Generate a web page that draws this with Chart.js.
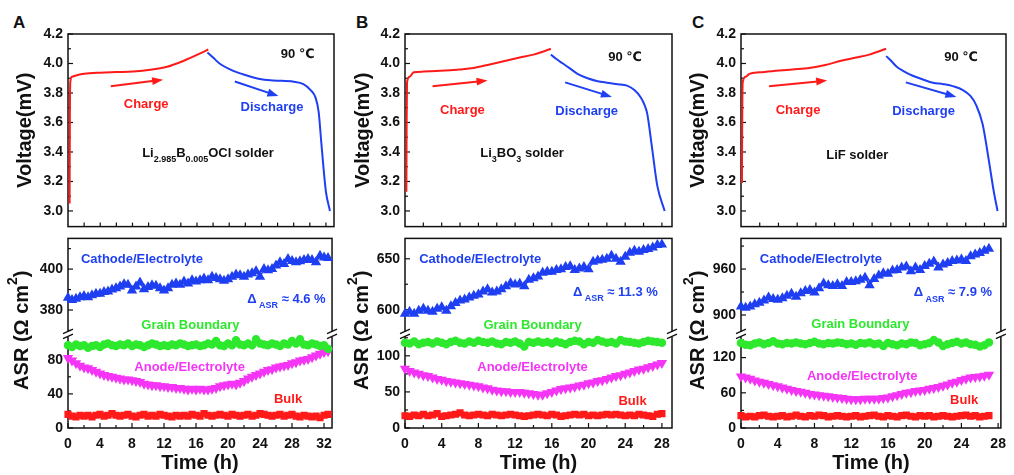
<!DOCTYPE html>
<html>
<head>
<meta charset="utf-8">
<script src="https://cdn.jsdelivr.net/npm/chart.js@4.4.1/dist/chart.umd.min.js"></script>
<style>
  body { margin: 0; background: #fff; width: 1014px; height: 475px; position: relative; overflow: hidden; }
  canvas { position: absolute; }
  .tag { position: absolute; font: bold 17px "Liberation Sans", Arial, sans-serif; color: #111; }
</style>
</head>
<body>
<div class="tag" style="left:13px;top:13px">A</div>
<div class="tag" style="left:356px;top:13px">B</div>
<div class="tag" style="left:692px;top:13px">C</div>
<canvas id="topA"></canvas><canvas id="botA"></canvas>
<canvas id="topB"></canvas><canvas id="botB"></canvas>
<canvas id="topC"></canvas><canvas id="botC"></canvas>
<script>
const FONT = '"Liberation Sans", "DejaVu Sans", Arial, sans-serif';
const RED = '#ff1a1a', BLUE = '#1f3ff2', GREEN = '#2ee82e', MAGENTA = '#f535f5', INK = '#111111';

// ---- panel A : Li2.985B0.005OCl ----
const timeA = [0,0.5,1,1.5,2,2.5,3,3.5,4,4.5,5,5.5,6,6.5,7,7.5,8,8.5,9,9.5,10,10.5,11,11.5,12,12.5,13,13.5,14,14.5,15,15.5,16,16.5,17,17.5,18,18.5,19,19.5,20,20.5,21,21.5,22,22.5,23,23.5,24,24.5,25,25.5,26,26.5,27,27.5,28,28.5,29,29.5,30,30.5,31,31.5,32,32.5];
const cathodeA = [386,384.9,385.5,386.3,386.8,386.3,387.2,387.9,388,388.8,389,390,390.7,391.5,392.6,392.3,389.5,391.5,393.4,390.2,391.2,392.1,391.8,390.7,389.5,390.7,392.3,393,392.3,393.9,393,394.6,393.9,394.6,395.4,394.6,396.2,395.7,395,394.3,395,396.2,397.3,397,396.2,397.3,398,399,396.2,400,399.4,400,401.7,403.3,402.5,404.9,404,403.3,403.8,404.4,404.9,404.4,403.3,406.5,405.7,405.4];
const grainA = [97,95,98,96,97,94,96,97,95,98,99,97,96,98,97,99,96,98,97,95,97,99,98,96,97,96,98,97,99,98,96,97,98,96,97,99,98,102,97,96,99,97,103,98,97,99,97,104,99,98,97,99,98,96,99,98,102,99,104,98,97,99,98,96,97,93];
const anodeA = [82,79,76,73,71,70,68,66,64,62,61,60,59,58,57,57,56,55,54,52,51,50,50,49,49,48,48,47,47,46,45,46,45,46,45,45,46,47,49,50,51,52,51,53,55,58,60,62,64,66,68,69,71,72,73,74,76,77,79,80,81,83,85,87,89,90];
const bulkA = [16,14,13,15,14,15,13,15,16,14,15,17,15,14,15,16,14,13,15,16,14,15,14,16,15,14,13,15,14,15,14,16,15,14,17,15,14,15,16,15,14,16,15,14,15,16,14,15,17,16,15,14,15,16,14,15,16,14,13,15,14,13,14,12,15,16];
const chargeTimeA = [0.2,0.23,0.28,0.5,1.1,2,4,6,8.1,10.2,12.3,14.3,16.4,17.4];
const chargeVoltA = [3.05,3.6,3.87,3.91,3.92,3.93,3.938,3.942,3.946,3.957,3.978,4.017,4.068,4.095];
const dischargeTimeA = [17.3,18.0,18.8,20.5,22.1,23.8,25.5,28.0,29.2,30.1,30.7,31.1,31.4,31.7,32.0,32.5];
const dischargeVoltA = [4.075,4.04,4.0,3.95,3.92,3.895,3.885,3.876,3.86,3.82,3.77,3.67,3.48,3.29,3.13,3.0];

// ---- panel B : Li3BO3 ----
const timeB = [0,0.5,1,1.5,2,2.5,3,3.5,4,4.5,5,5.5,6,6.5,7,7.5,8,8.5,9,9.5,10,10.5,11,11.5,12,12.5,13,13.5,14,14.5,15,15.5,16,16.5,17,17.5,18,18.5,19,19.5,20,20.5,21,21.5,22,22.5,23,23.5,24,24.5,25,25.5,26,26.5,27,27.5,28];
const cathodeB = [596,598,596,599,601,599,598,601,602.5,599,603.5,606.6,609,610,612,613.6,615,618,620,617,618,620,623,626,624.7,625.6,623,629.4,631,632.6,636.4,637.3,637.3,639,639.6,642,642.7,639,640.5,642,639.6,647,648.4,649,650,653,650,647,652,656,658,657,658.5,659.5,661,663.6,664];
const grainB = [118,117,120,116,118,119,117,120,118,116,119,121,118,117,120,118,121,119,118,120,117,116,119,118,120,117,113,119,118,120,118,119,117,120,118,116,119,121,120,116,119,118,122,120,118,119,117,122,120,119,118,117,119,121,120,119,118];
const anodeB = [82,79,77,75,73,72,70,68,67,65,64,63,62,61,60,59,58,56,55,53,52,51,51,50,50,50,49,48,47,46,46,48,50,52,54,55,56,57,59,60,62,63,65,66,68,70,72,73,75,77,79,81,82,84,86,88,90];
const bulkB = [17,16,18,17,19,17,18,20,16,17,18,19,21,18,17,18,19,18,17,19,18,17,18,19,18,17,16,17,18,19,18,17,19,18,16,17,18,19,18,19,17,18,17,18,19,18,19,18,17,18,17,19,18,17,16,19,20];
const chargeTimeB = [0.15,0.18,0.22,0.5,0.95,2,3.85,6,7.5,9,11.1,12.5,14,15,15.9];
const chargeVoltB = [3.13,3.6,3.87,3.91,3.94,3.945,3.95,3.96,3.97,3.99,4.02,4.04,4.06,4.08,4.1];
const dischargeTimeB = [15.9,16.5,17.2,17.9,18.8,19.9,21,22,23.2,24.2,25,25.7,26.1,26.4,26.9,27.5,28.3];
const dischargeVoltB = [4.06,4.03,4.0,3.97,3.93,3.9,3.88,3.87,3.86,3.85,3.82,3.77,3.72,3.66,3.44,3.17,3.0];

// ---- panel C : LiF ----
const timeC = [0,0.5,1,1.5,2,2.5,3,3.5,4,4.5,5,5.5,6,6.5,7,7.5,8,8.5,9,9.5,10,10.5,11,11.5,12,12.5,13,13.5,14,14.5,15,15.5,16,16.5,17,17.5,18,18.5,19,19.5,20,20.5,21,21.5,22,22.5,23,23.5,24,24.5,25,25.5,26,26.5,27];
const cathodeC = [911,909.6,911,914,916,919,923,921,920,922,925,927.7,924,928.5,931.5,932.7,929.4,934.8,941,939,937.8,940,937.8,943,943,944,946,948.7,939,947,951.6,954.5,953.7,958,958.7,962,963.4,957,962,958.7,964,967,969.7,962,966,968,970.5,971.3,972.6,970.5,976.8,979,981,984,986.4];
const grainC = [145,142,141,144,146,143,145,148,144,143,145,144,146,144,143,145,147,144,143,145,144,146,145,143,144,142,145,144,146,143,144,140,145,143,141,144,143,146,145,141,143,145,150,146,140,143,145,147,144,146,143,142,139,141,146];
const anodeC = [88,86,84,81,79,77,75,73,71,69,67,65,63,62,60,58,57,56,55,54,53,52,51,50,49,49,49,50,50,50,50,51,52,54,56,58,60,61,63,64,65,67,68,70,72,74,77,79,82,84,86,87,88,89,91];
const bulkC = [21,19,20,19,21,22,20,19,20,21,19,20,22,20,19,21,20,22,21,19,20,21,20,19,20,21,19,20,21,22,20,19,21,20,19,21,22,20,19,21,20,21,19,20,21,20,19,20,21,22,20,21,19,20,21];
const chargeTimeC = [0.1,0.13,0.18,0.5,0.9,2,3.7,5.5,7.3,9,10.8,12.3,13.7,15.5];
const chargeVoltC = [3.19,3.6,3.87,3.91,3.93,3.94,3.95,3.96,3.97,3.99,4.02,4.04,4.06,4.1];
const dischargeTimeC = [15.5,16.0,16.6,17.3,18.4,19.5,20.5,21.6,22.7,23.7,24.5,25.1,25.8,26.5,27,27.4];
const dischargeVoltC = [4.05,4.02,3.98,3.95,3.915,3.89,3.87,3.86,3.845,3.82,3.78,3.72,3.59,3.33,3.13,3.0];

// tick values
const voltTicks = [3.0,3.2,3.4,3.6,3.8,4.0,4.2];
const voltMinor = [3.1,3.3,3.5,3.7,3.9,4.1];
const timeTicksA = [0,4,8,12,16,20,24,28,32];
const timeTicksBC = [0,4,8,12,16,20,24,28];
const timeMinorA = [2,6,10,14,18,22,26,30];
const timeMinorBC = [2,6,10,14,18,22,26];
const topTicksA = [2,4,6,8,10,12,14,16,18,20,22,24,26,28,30,32];
const topTicksBC = [2,4,6,8,10,12,14,16,18,20,22,24,26,28];

const pts = (xs, ys) => xs.map((x, i) => ({x, y: ys[i]}));
const tickFont = {family: FONT, size: 14, weight: 'bold'};

function line(ctx, x1, y1, x2, y2) { ctx.beginPath(); ctx.moveTo(x1, y1); ctx.lineTo(x2, y2); ctx.stroke(); }

function rich(ctx, parts, x, y, align, color, size) {
  const fs = k => k === 'n' ? size : Math.round(size * 0.68);
  let w = 0;
  parts.forEach(([t, k]) => { ctx.font = `bold ${fs(k)}px ${FONT}`; w += ctx.measureText(t).width; });
  let cx = align === 'center' ? x - w / 2 : x;
  ctx.fillStyle = color; ctx.textAlign = 'left'; ctx.textBaseline = 'middle';
  parts.forEach(([t, k]) => {
    ctx.font = `bold ${fs(k)}px ${FONT}`;
    const dy = k === 'sub' ? size * 0.5 : k === 'sup' ? -size * 0.42 : 0;
    ctx.fillText(t, cx, y + dy);
    cx += ctx.measureText(t).width;
  });
}

// frame, inward ticks, break marks, notes and arrows
function decor(cfg) {
  return {
    id: 'decor',
    beforeDatasetsDraw(chart) {
      const {ctx, chartArea: a, scales} = chart;
      ctx.save();
      ctx.strokeStyle = INK;
      ctx.lineWidth = 1.5;
      ctx.strokeRect(a.left, a.top, a.right - a.left, a.bottom - a.top);
      ctx.lineWidth = 1.2;
      cfg.xTicks.forEach(([vals, len]) => vals.forEach(v => {
        const px = scales.x.getPixelForValue(v);
        line(ctx, px, a.bottom, px, a.bottom - len);
      }));
      cfg.yTicks.forEach(([id, vals, len]) => {
        const s = scales[id];
        vals.forEach(v => {
          const py = s.getPixelForValue(v);
          if (py < s.top - 0.5 || py > s.bottom + 0.5) return;
          line(ctx, a.left, py, a.left + len, py);
        });
      });
      ctx.restore();
    },
    afterDraw(chart) {
      const {ctx, chartArea: a, scales} = chart;
      ctx.save();
      if (cfg.brk) {
        const y = scales.yHi.bottom;
        [a.left, a.right].forEach(x => {
          ctx.fillStyle = '#fff';
          ctx.fillRect(x - 2.5, y - 2.5, 5, 5);
          ctx.strokeStyle = INK; ctx.lineWidth = 1.3;
          line(ctx, x - 5, y - 0.5, x + 5, y - 5);
          line(ctx, x - 5, y + 4.5, x + 5, y);
        });
        // ASR title
        ctx.translate(cfg.titleX, (a.top + a.bottom) / 2 - 3);
        ctx.rotate(-Math.PI / 2);
        rich(ctx, [['ASR (\u03A9 cm', 'n'], ['2', 'sup'], [')', 'n']], 0, 0, 'center', INK, 20);
        ctx.setTransform(1, 0, 0, 1, 0, 0);
      }
      (cfg.arrows || []).forEach(ar => {
        const x1 = scales.x.getPixelForValue(ar.from[0]), y1 = scales.y.getPixelForValue(ar.from[1]);
        const x2 = scales.x.getPixelForValue(ar.to[0]), y2 = scales.y.getPixelForValue(ar.to[1]);
        const ang = Math.atan2(y2 - y1, x2 - x1);
        ctx.strokeStyle = ar.color; ctx.fillStyle = ar.color; ctx.lineWidth = 2;
        line(ctx, x1, y1, x2 - 7 * Math.cos(ang), y2 - 7 * Math.sin(ang));
        ctx.beginPath();
        ctx.moveTo(x2, y2);
        ctx.lineTo(x2 - 11 * Math.cos(ang) + 4 * Math.sin(ang), y2 - 11 * Math.sin(ang) - 4 * Math.cos(ang));
        ctx.lineTo(x2 - 11 * Math.cos(ang) - 4 * Math.sin(ang), y2 - 11 * Math.sin(ang) + 4 * Math.cos(ang));
        ctx.closePath(); ctx.fill();
      });
      cfg.notes.forEach(n => {
        const px = scales.x.getPixelForValue(n.x), py = scales[n.axis].getPixelForValue(n.y);
        rich(ctx, n.parts, px, py, n.align, n.color, 13);
      });
      ctx.restore();
    }
  };
}

function setup(id, left, top, w, h) {
  const cv = document.getElementById(id);
  cv.width = w; cv.height = h;
  cv.style.left = left + 'px'; cv.style.top = top + 'px';
  return cv;
}

function makeTop(p) {
  const cv = setup('top' + p.key, p.left, 0, p.width, 240);
  new Chart(cv, {
    type: 'line',
    data: {
      datasets: [
        {data: pts(p.chargeT, p.chargeV), borderColor: RED, borderWidth: 2, pointRadius: 0, cubicInterpolationMode: 'monotone'},
        {data: pts(p.dischargeT, p.dischargeV), borderColor: BLUE, borderWidth: 2, pointRadius: 0, cubicInterpolationMode: 'monotone'}
      ]
    },
    options: {
      responsive: false, animation: false, events: [],
      layout: {padding: {top: 34, bottom: 8, right: p.padR, left: 0}},
      plugins: {legend: {display: false}, tooltip: {enabled: false}},
      scales: {
        x: {type: 'linear', display: false, min: 0, max: p.xMax},
        y: {
          min: 2.894, max: 4.2,
          afterFit: s => { s.width = p.axisW; },
          afterBuildTicks: s => { s.ticks = voltTicks.map(v => ({value: v})); },
          grid: {display: false, drawTicks: false}, border: {display: false},
          ticks: {padding: 5, font: tickFont, color: INK, autoSkip: false, callback: v => v.toFixed(1)},
          title: {display: true, text: 'Voltage(mV)', color: INK, font: {family: FONT, size: 20, weight: 'bold'}, padding: {top: p.vTitlePad, bottom: 0}}
        }
      }
    },
    plugins: [decor({
      xTicks: [[p.topTicks, 4]],
      yTicks: [['y', voltTicks, 5], ['y', voltMinor, 3]],
      arrows: p.arrows, notes: p.topNotes
    })]
  });
}

function makeBottom(p) {
  const cv = setup('bot' + p.key, p.left, 225, p.width, 250);
  const yCommon = {
    grid: {display: false, drawTicks: false}, border: {display: false},
    afterFit: s => { s.width = p.axisW; }
  };
  const tickOpts = {padding: 5, font: tickFont, color: INK, autoSkip: false};
  new Chart(cv, {
    type: 'line',
    data: {
      datasets: [
        {data: pts(p.time, p.cathode), yAxisID: 'yHi', borderColor: BLUE, backgroundColor: BLUE, borderWidth: 1.5, pointStyle: 'triangle', pointRadius: 4.5, clip: false},
        {data: pts(p.time, p.grain), yAxisID: 'yLo', borderColor: GREEN, backgroundColor: GREEN, borderWidth: 1.5, pointStyle: 'circle', pointRadius: 3.5, clip: false},
        {data: pts(p.time, p.anode), yAxisID: 'yLo', borderColor: MAGENTA, backgroundColor: MAGENTA, borderWidth: 1.5, pointStyle: 'triangle', pointRotation: 180, pointRadius: 4.5, clip: false},
        {data: pts(p.time, p.bulk), yAxisID: 'yLo', borderColor: RED, backgroundColor: RED, borderWidth: 1.5, pointStyle: 'rect', pointRadius: 4, clip: false}
      ]
    },
    options: {
      responsive: false, animation: false, events: [],
      layout: {padding: {top: 7, bottom: 0, right: p.padR, left: 0}},
      plugins: {legend: {display: false}, tooltip: {enabled: false}},
      scales: {
        x: {
          type: 'linear', min: 0, max: p.xMax,
          afterFit: s => { s.height = 47; },
          afterBuildTicks: s => { s.ticks = p.xTicks.map(v => ({value: v})); },
          grid: {display: false, drawTicks: false}, border: {display: false},
          ticks: {padding: 8, font: tickFont, color: INK, autoSkip: false, maxRotation: 0},
          title: {display: true, text: 'Time (h)', color: INK, font: {family: FONT, size: 20, weight: 'bold'}, padding: {top: 0, bottom: 0}}
        },
        yLo: Object.assign({
          position: 'left', stack: 'asr', stackWeight: 97, min: p.loRange[0], max: p.loRange[1],
          afterBuildTicks: s => { s.ticks = p.loTicks.map(v => ({value: v})); },
          ticks: tickOpts
        }, yCommon),
        yHi: Object.assign({
          position: 'left', stack: 'asr', stackWeight: 99, min: p.hiRange[0], max: p.hiRange[1],
          afterBuildTicks: s => { s.ticks = p.hiTicks.map(v => ({value: v})); },
          ticks: tickOpts
        }, yCommon)
      }
    },
    plugins: [decor({
      xTicks: [[p.xTicks, 5], [p.xMinor, 3]],
      yTicks: [['yLo', p.loTicks, 5], ['yLo', p.loMinor, 3], ['yHi', p.hiTicks, 5], ['yHi', p.hiMinor, 3]],
      brk: true, titleX: 22, notes: p.botNotes
    })]
  });
}

const panels = [
  {
    key: 'A', left: 0, width: 340, axisW: 68, padR: 6, xMax: 33, vTitlePad: 13,
    chargeT: chargeTimeA, chargeV: chargeVoltA, dischargeT: dischargeTimeA, dischargeV: dischargeVoltA,
    time: timeA, cathode: cathodeA, grain: grainA, anode: anodeA, bulk: bulkA,
    topTicks: topTicksA, xTicks: timeTicksA, xMinor: timeMinorA,
    hiRange: [368.2, 415], hiTicks: [380, 400], hiMinor: [370, 390, 410],
    loRange: [0, 110], loTicks: [0, 40, 80], loMinor: [20, 60, 100],
    arrows: [{from: [5.3, 3.845], to: [11.8, 3.89], color: RED}, {from: [20.7, 3.878], to: [26.1, 3.779], color: BLUE}],
    topNotes: [
      {parts: [['90 \u2103', 'n']], x: 28.5, y: 4.063, axis: 'y', align: 'center', color: INK},
      {parts: [['Charge', 'n']], x: 9.7, y: 3.72, axis: 'y', align: 'center', color: RED},
      {parts: [['Discharge', 'n']], x: 25.3, y: 3.70, axis: 'y', align: 'center', color: BLUE},
      {parts: [['Li', 'n'], ['2.985', 'sub'], ['B', 'n'], ['0.005', 'sub'], ['OCl solder', 'n']], x: 9.2, y: 3.39, axis: 'y', align: 'left', color: INK}
    ],
    botNotes: [
      {parts: [['Cathode/Electrolyte', 'n']], x: 9.25, y: 404.6, axis: 'yHi', align: 'center', color: BLUE},
      {parts: [['\u0394', 'n'], [' ASR', 'sub'], [' \u2248 4.6 %', 'n']], x: 22.4, y: 385.2, axis: 'yHi', align: 'left', color: BLUE},
      {parts: [['Grain Boundary', 'n']], x: 15.3, y: 372.4, axis: 'yHi', align: 'center', color: GREEN},
      {parts: [['Anode/Electrolyte', 'n']], x: 15.2, y: 71.4, axis: 'yLo', align: 'center', color: MAGENTA},
      {parts: [['Bulk', 'n']], x: 27.5, y: 34, axis: 'yLo', align: 'center', color: RED}
    ]
  },
  {
    key: 'B', left: 340, width: 340, axisW: 65, padR: 8, xMax: 29.1, vTitlePad: 11,
    chargeT: chargeTimeB, chargeV: chargeVoltB, dischargeT: dischargeTimeB, dischargeV: dischargeVoltB,
    time: timeB, cathode: cathodeB, grain: grainB, anode: anodeB, bulk: bulkB,
    topTicks: topTicksBC, xTicks: timeTicksBC, xMinor: timeMinorBC,
    hiRange: [576, 670], hiTicks: [600, 650], hiMinor: [625],
    loRange: [0, 130], loTicks: [0, 50, 100], loMinor: [25, 75, 125],
    arrows: [{from: [3.0, 3.845], to: [9.0, 3.885], color: RED}, {from: [17.45, 3.872], to: [22.55, 3.773], color: BLUE}],
    topNotes: [
      {parts: [['90 \u2103', 'n']], x: 24, y: 4.043, axis: 'y', align: 'center', color: INK},
      {parts: [['Charge', 'n']], x: 6.26, y: 3.68, axis: 'y', align: 'center', color: RED},
      {parts: [['Discharge', 'n']], x: 19.8, y: 3.673, axis: 'y', align: 'center', color: BLUE},
      {parts: [['Li', 'n'], ['3', 'sub'], ['BO', 'n'], ['3', 'sub'], [' solder', 'n']], x: 8.2, y: 3.39, axis: 'y', align: 'left', color: INK}
    ],
    botNotes: [
      {parts: [['Cathode/Electrolyte', 'n']], x: 8.2, y: 649.3, axis: 'yHi', align: 'center', color: BLUE},
      {parts: [['\u0394', 'n'], [' ASR', 'sub'], [' \u2248 11.3 %', 'n']], x: 18.3, y: 617, axis: 'yHi', align: 'left', color: BLUE},
      {parts: [['Grain Boundary', 'n']], x: 13.9, y: 584.8, axis: 'yHi', align: 'center', color: GREEN},
      {parts: [['Anode/Electrolyte', 'n']], x: 13.9, y: 84, axis: 'yLo', align: 'center', color: MAGENTA},
      {parts: [['Bulk', 'n']], x: 24.8, y: 37.3, axis: 'yLo', align: 'center', color: RED}
    ]
  },
  {
    key: 'C', left: 676, width: 338, axisW: 65, padR: 8, xMax: 28.3, vTitlePad: 10,
    chargeT: chargeTimeC, chargeV: chargeVoltC, dischargeT: dischargeTimeC, dischargeV: dischargeVoltC,
    time: timeC, cathode: cathodeC, grain: grainC, anode: anodeC, bulk: bulkC,
    topTicks: topTicksBC, xTicks: timeTicksBC, xMinor: timeMinorBC,
    hiRange: [875, 1000], hiTicks: [900, 960], hiMinor: [930, 990],
    loRange: [0, 160], loTicks: [0, 60, 120], loMinor: [30, 90, 150],
    arrows: [{from: [3.0, 3.845], to: [9.2, 3.885], color: RED}, {from: [17.6, 3.872], to: [23.0, 3.773], color: BLUE}],
    topNotes: [
      {parts: [['90 \u2103', 'n']], x: 23.5, y: 4.043, axis: 'y', align: 'center', color: INK},
      {parts: [['Charge', 'n']], x: 6.1, y: 3.68, axis: 'y', align: 'center', color: RED},
      {parts: [['Discharge', 'n']], x: 19.5, y: 3.673, axis: 'y', align: 'center', color: BLUE},
      {parts: [['LiF solder', 'n']], x: 9.1, y: 3.376, axis: 'y', align: 'left', color: INK}
    ],
    botNotes: [
      {parts: [['Cathode/Electrolyte', 'n']], x: 8.7, y: 972.7, axis: 'yHi', align: 'center', color: BLUE},
      {parts: [['\u0394', 'n'], [' ASR', 'sub'], [' \u2248 7.9 %', 'n']], x: 18.8, y: 929, axis: 'yHi', align: 'left', color: BLUE},
      {parts: [['Grain Boundary', 'n']], x: 13.0, y: 887.4, axis: 'yHi', align: 'center', color: GREEN},
      {parts: [['Anode/Electrolyte', 'n']], x: 13.2, y: 87.6, axis: 'yLo', align: 'center', color: MAGENTA},
      {parts: [['Bulk', 'n']], x: 24.3, y: 46.3, axis: 'yLo', align: 'center', color: RED}
    ]
  }
];

panels.forEach(p => { makeTop(p); makeBottom(p); });
</script>
</body>
</html>
